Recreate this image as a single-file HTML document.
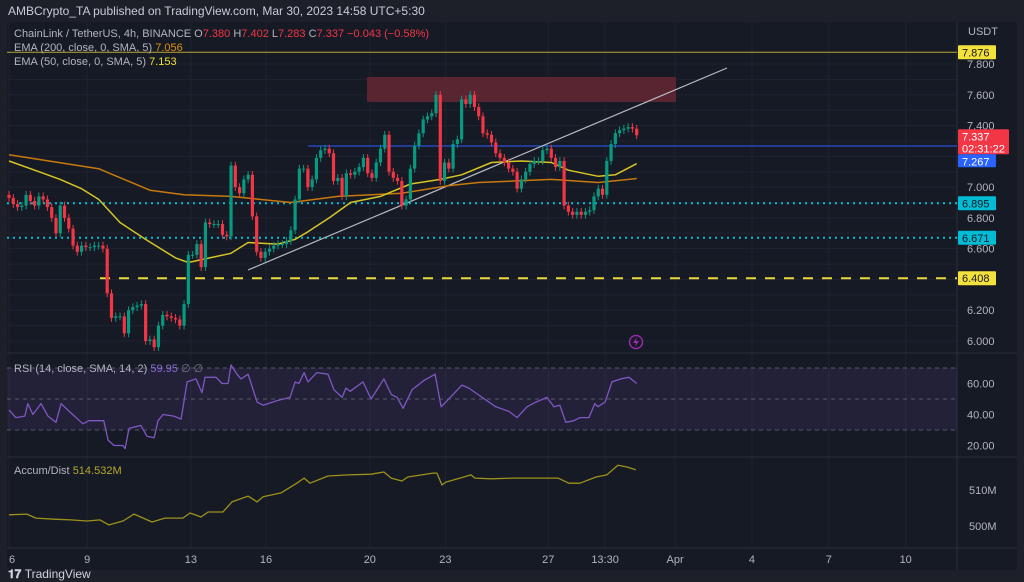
<!DOCTYPE html>
<html><head><meta charset="utf-8"><style>
html,body{margin:0;padding:0;background:#1d2029;}
svg{display:block;font-family:"Liberation Sans",sans-serif;}
</style></head><body>
<svg id="chart" width="1024" height="582" viewBox="0 0 1024 582">
<rect x="0" y="0" width="1024" height="582" fill="#1d2029"/>
<rect x="7" y="22" width="1010" height="548" fill="#161a25"/>
<text x="8" y="15" font-size="12" fill="#c9ccd6">AMBCrypto_TA published on TradingView.com, Mar 30, 2023 14:58 UTC+5:30</text>
<g id="grid"></g>
<g id="levels"></g>
<g id="price"></g>
<g id="rsi"></g>
<g id="ad"></g>
<g id="axes"></g>
<g font-size="11">
<text x="14" y="37" fill="#b2b5be">ChainLink / TetherUS, 4h, BINANCE  <tspan fill="#b2b5be">O</tspan><tspan fill="#f23645">7.380</tspan>  <tspan>H</tspan><tspan fill="#f23645">7.402</tspan>  <tspan>L</tspan><tspan fill="#f23645">7.283</tspan>  <tspan>C</tspan><tspan fill="#f23645">7.337  −0.043 (−0.58%)</tspan></text>
<text x="14" y="51" fill="#b2b5be">EMA (200, close, 0, SMA, 5)  <tspan fill="#e0900f">7.056</tspan></text>
<text x="14" y="65" fill="#b2b5be">EMA (50, close, 0, SMA, 5)  <tspan fill="#f0e030">7.153</tspan></text>
<text x="14" y="372" fill="#b2b5be">RSI (14, close, SMA, 14, 2)  <tspan fill="#8c6fd8">59.95</tspan>  <tspan fill="#787b86">∅  ∅</tspan></text>
<text x="14" y="474" fill="#b2b5be">Accum/Dist  <tspan fill="#b5a82a">514.532M</tspan></text>
</g>
<g>
<circle cx="636" cy="342" r="6.5" fill="none" stroke="#9c27b0" stroke-width="1.5"/>
<path d="M637 337 L633 343 L636 343 L635 347 L639 341 L636 341 Z" fill="#9c27b0"/>
</g>
<g>
<text x="8" y="578" font-size="12" font-weight="bold" fill="#d1d4dc">𝟏𝟕 <tspan font-weight="normal">TradingView</tspan></text>
</g>
</svg>
<script>
// ---- data ----
const closes = [6.93,6.89,6.87,6.88,6.95,6.91,6.88,6.94,6.92,6.87,6.80,6.70,6.88,6.80,6.73,6.62,6.58,6.62,6.61,6.61,
6.62,6.62,6.60,6.31,6.15,6.16,6.16,6.05,6.20,6.22,6.23,6.24,6.00,6.01,5.96,6.10,6.17,6.16,6.15,6.14,
6.10,6.24,6.56,6.56,6.63,6.48,6.77,6.76,6.76,6.76,6.69,6.68,7.14,7.00,6.96,7.05,7.08,6.81,6.58,6.54,
6.58,6.60,6.62,6.63,6.63,6.65,6.72,6.92,7.12,7.12,7.00,7.05,7.19,7.24,7.25,7.22,7.04,7.06,6.94,7.09,
7.08,7.10,7.13,7.19,7.09,7.06,7.16,7.25,7.34,7.10,7.06,7.04,6.88,6.92,7.12,7.27,7.35,7.44,7.46,7.48,
7.60,7.04,7.16,7.12,7.28,7.31,7.57,7.54,7.60,7.52,7.46,7.35,7.34,7.29,7.22,7.19,7.16,7.12,7.10,6.99,
7.05,7.10,7.15,7.17,7.17,7.24,7.25,7.19,7.13,7.17,6.88,6.84,6.82,6.84,6.82,6.84,6.85,6.94,6.99,6.95,
7.17,7.28,7.35,7.37,7.38,7.39,7.38,7.337];
const firstOpen = 6.95;
const ema200Idx = [0,21,33,41,52,66,77,92,103,110,127,138,147];
const ema200Val = [7.21,7.12,6.98,6.95,6.94,6.90,6.94,6.96,7.01,7.03,7.05,7.03,7.056];
const ema50Idx = [0,7,12,17,21,26,32,39,42,47,52,56,63,67,70,75,80,87,94,101,106,113,120,127,131,138,142,147];
const ema50Val = [7.17,7.10,7.05,6.99,6.92,6.77,6.66,6.54,6.51,6.54,6.57,6.64,6.63,6.66,6.71,6.80,6.90,6.94,7.02,7.05,7.08,7.16,7.17,7.16,7.11,7.07,7.08,7.153];
const rsiIdx = [0,1.6,3.7,4.4,5.6,7.5,9.1,11,12.2,14.5,17.3,18.7,22.2,23.2,24.6,26.7,27.2,28.1,30.9,32.3,34,34.9,36.1,38.6,40.3,41.7,43.8,45.2,45.9,48.5,49.9,51.3,52,53.4,54.3,56,58.1,59.5,62.8,65.8,67,67.9,69.1,70,72.1,74.7,76.1,78,78.9,79.9,82.9,84.8,87.8,89.5,90.9,92.3,94.4,97.2,99.8,101.2,102.3,106.1,107.7,110.8,114,117.1,119,121.3,123.4,126,127.6,129,130.4,132.3,133.7,135.8,137.2,137.9,139.6,141.2,143.3,145.2,147];
const rsiVal = [43,38,39,47,40,47,39,35,47,41,34,36,36,23.5,20,20,18,31,33,26,25,36,40,39,37,61,63,54,64,64,60,60,72,66,63,66,48,46,49,51,61,60,67,61,67,66,56,51,57,55,61,50,63,53,51,44,56,62,66,45,48,59,57,51,45,42,38,45,48,51,45,46,35,36,38,38,47,45,48,61,63,64,60];
const adIdx = [0,4.2,6.3,10.5,14.5,18.3,21.3,23.4,26.7,29.3,33.5,36.5,40.7,42.4,45,46.6,50.1,52.2,56,58.1,59.5,63.7,67.4,69.1,70.5,74.7,79.4,84.8,87.8,89.5,92,93.4,99.3,100.2,101.4,102.3,105.6,108.2,109.1,112.9,118,123.4,128.6,131.1,133.7,137.5,140,142.6,144.7,146.8];
const adVal = [503.1,503.3,502.2,501.9,501.7,501.4,501.7,500.3,501.4,503.3,501.1,502.2,502.2,503.6,502.5,503.9,503.9,506.7,508.3,506.7,508.1,509.2,511.9,513.3,511.9,513.9,514.2,514.4,515,513.3,512.5,513.6,514.7,514.7,511.4,512.2,513.3,514.2,513.3,513.1,513.3,513.3,513.3,511.9,511.9,513.6,514.2,516.9,516.4,515.6];
const priceTicks = ["7.800","7.600","7.400","7.000","6.800","6.600","6.200","6.000"];
const rsiTicks = ["60.00","40.00","20.00"];
const adTicks = ["510M","500M"];
const dateLabels = ["6","9","13","16","20","23","27","13:30","Apr","4","7","10"];
const dateIdx = [0,18.3,42.6,60.2,84.5,102.2,126.3,139.6,156,174,192,210];
const levelVals = [6.895,6.671];
const supportVal = 6.408;
const resistVal = 7.267;
const topLineVal = 7.876;
const lastVal = 7.337;

// ---- scales ----
const NS='http://www.w3.org/2000/svg';
const X0=9, DX=4.27, PANE_R=957;
const xi = i => X0 + i*DX;
const py = p => 64 + (7.8-p)*153.9;
const ry = v => 368 + (70-v)*1.55;
const ay = v => 490 + (510-v)*3.6;
function mk(tag, attrs, parent){const e=document.createElementNS(NS,tag);for(const k in attrs)e.setAttribute(k,attrs[k]);parent.appendChild(e);return e;}
const G=id=>document.getElementById(id);

// grid
const grid=G('grid');
for(let p=6.0;p<=7.85;p+=0.1){const l=mk('line',{x1:7,x2:PANE_R,y1:py(p),y2:py(p),stroke:'#1f2331','stroke-width':1},grid);

}
dateIdx.forEach(i=>{const l=mk('line',{x1:xi(i),x2:xi(i),y1:22,y2:548,stroke:'#1f2331','stroke-width':1},grid);

});
[353,457,548].forEach(y=>{const l=mk('line',{x1:7,x2:1017,y1:y,y2:y,stroke:'#2a2e39','stroke-width':1},grid);

});
const vs=mk('line',{x1:PANE_R,x2:PANE_R,y1:22,y2:570,stroke:'#2a2e39'},grid);



// levels
const lv=G('levels');
let e;
e=mk('rect',{x:367,y:77,width:309,height:25,fill:'#5c2630','fill-opacity':0.95},lv);


e=mk('line',{x1:7,x2:PANE_R,y1:py(topLineVal),y2:py(topLineVal),stroke:'#b9a634','stroke-width':1},lv);


e=mk('line',{x1:308,x2:PANE_R,y1:py(resistVal),y2:py(resistVal),stroke:'#2a4fd6','stroke-width':1.2},lv);


levelVals.forEach(v=>{const l=mk('line',{x1:7,x2:PANE_R,y1:py(v),y2:py(v),stroke:'#00bcd4','stroke-width':2,'stroke-dasharray':'2 4'},lv);

});
e=mk('line',{x1:100,x2:PANE_R,y1:py(supportVal),y2:py(supportVal),stroke:'#e8d83a','stroke-width':2,'stroke-dasharray':'10 9'},lv);


e=mk('line',{x1:248,y1:270,x2:727,y2:68,stroke:'#b8bac2','stroke-width':1.2},lv);



// price pane
const pr=G('price');
function poly(idx,val,f,color,w,parent,name){const pts=idx.map((i,k)=>xi(i).toFixed(1)+','+f(val[k]).toFixed(1)).join(' ');
const p=mk('polyline',{points:pts,fill:'none',stroke:color,'stroke-width':w,'stroke-linejoin':'round'},parent);

return p;}
poly(ema200Idx,ema200Val,py,'#c9780e',1.5,pr,'ema200-line');
poly(ema50Idx,ema50Val,py,'#d6c524',1.5,pr,'ema50-line');
closes.forEach((c,i)=>{const o=i?closes[i-1]:firstOpen;const up=c>=o;const col=up?'#089981':'#f23645';
const hi=Math.max(o,c)+0.025, lo=Math.min(o,c)-0.025;const x=xi(i);
const g=mk('g',{},pr);


mk('line',{x1:x,x2:x,y1:py(hi),y2:py(lo),stroke:col,'stroke-width':1},g);
const top=py(Math.max(o,c)), h=Math.max(1,Math.abs(py(o)-py(c)));
mk('rect',{x:x-1.6,y:top,width:3.2,height:h,fill:col},g);});

// rsi pane
const rs=G('rsi');
e=mk('rect',{x:7,y:ry(70),width:PANE_R-7,height:ry(30)-ry(70),fill:'#7e57c2','fill-opacity':0.12},rs);


[70,50,30].forEach(v=>{const l=mk('line',{x1:7,x2:PANE_R,y1:ry(v),y2:ry(v),stroke:'#555a66','stroke-dasharray':'4 4','stroke-width':1},rs);

});
poly(rsiIdx,rsiVal,ry,'#7e57c2',1.3,rs,'rsi-line');

// a/d pane
poly(adIdx,adVal,ay,'#9c911c',1.3,G('ad'),'accum-dist-line');

// axes
const ax=G('axes');
function label(txt,x,y,fill,name,anchor){const t=mk('text',{x:x,y:y,'font-size':11,fill:fill,'text-anchor':anchor||'start'},ax);t.textContent=txt;

return t;}
label('USDT',968,35,'#b2b5be','currency-label');
priceTicks.forEach(t=>label(t,967,py(parseFloat(t))+4,'#b2b5be','price-tick'));
rsiTicks.forEach(t=>label(t,967,ry(parseFloat(t))+4,'#b2b5be','rsi-tick'));
adTicks.forEach(t=>label(t,969,ay(parseFloat(t))+4,'#b2b5be','ad-tick'));
dateLabels.forEach((t,k)=>label(t,xi(dateIdx[k]),563,'#b2b5be','date-tick',k===0?'start':'middle'));
function badgeAt(txt,top,bg,fg,name,w,h,extra){const g=mk('g',{},ax);


mk('rect',{x:958,y:top,width:w,height:h,fill:bg,rx:1},g);
const t=mk('text',{x:962,y:top+11,'font-size':11,fill:fg},g);t.textContent=txt;
if(extra){const t2=mk('text',{x:962,y:top+23,'font-size':11,fill:fg},g);t2.textContent=extra;}}
function badge(txt,v,bg,fg,name){badgeAt(txt,py(v)-7,bg,fg,name,38,14);}
badge('7.876',topLineVal,'#f5e13b','#131722','top-level-badge');
badgeAt('7.337',py(lastVal)-6,'#f23645','#ffffff','last-price-badge',51,25,'02:31:22');
badgeAt('7.267',py(lastVal)+19,'#2962ff','#ffffff','level-7267-badge',38,13);
badge('6.895',levelVals[0],'#00bcd4','#131722','level-6895-badge');
badge('6.671',levelVals[1],'#00bcd4','#131722','level-6671-badge');
badge('6.408',supportVal,'#f5e13b','#131722','level-6408-badge');
</script>
</body></html>
